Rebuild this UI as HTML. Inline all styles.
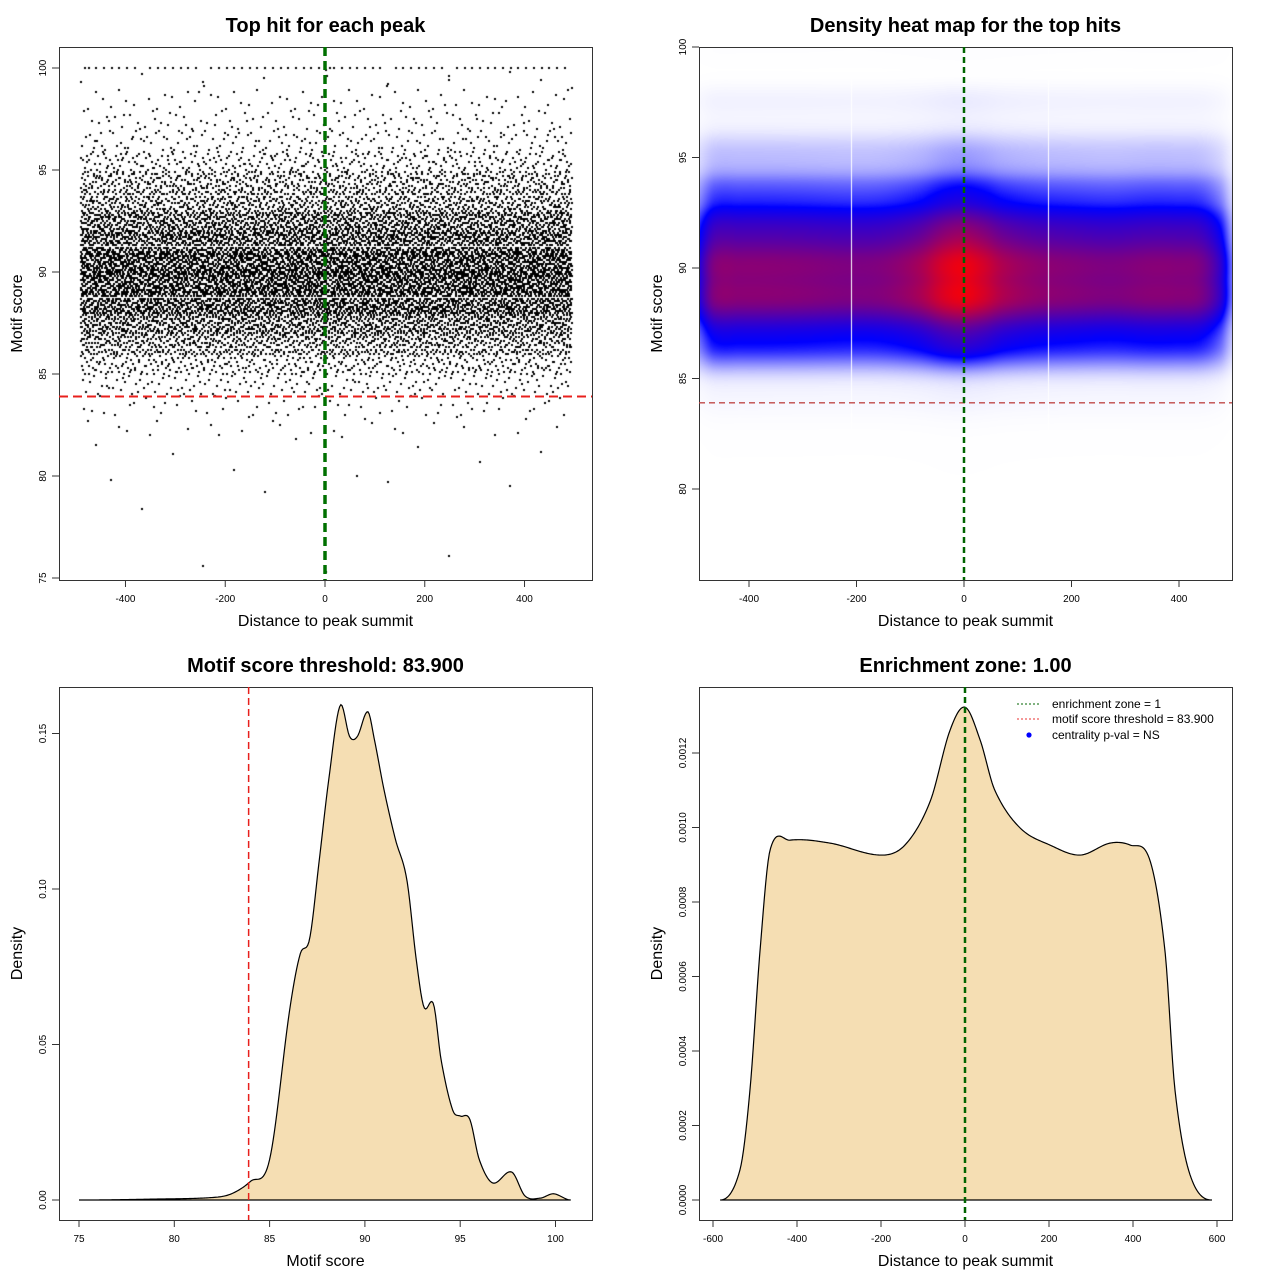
<!DOCTYPE html>
<html><head><meta charset="utf-8">
<style>
html,body{margin:0;padding:0;background:#fff;}
#wrap{position:relative;width:1280px;height:1280px;overflow:hidden;font-family:"Liberation Sans",Arial,sans-serif;}
canvas{position:absolute;}
svg{position:absolute;left:0;top:0;}
</style></head>
<body>
<div id="wrap">
<canvas id="scatter" width="533" height="533" style="left:59px;top:47px"></canvas>
<canvas id="heat" width="533" height="533" style="left:699px;top:47px"></canvas>
<svg id="svg" width="1280" height="1280" xmlns="http://www.w3.org/2000/svg"></svg>
</div>
<script>
// ---- data ----
const scoreGrid = [75,79,82,83,84,85,86.05,86.6,87.1,87.6,88.1,88.7,89.2,89.6,90.15,90.5,91.0,91.6,92.2,92.7,93.1,93.6,94.0,94.6,95.0,95.5,96.0,96.7,97.7,98.4,99.2,99.9,100.8];
const scoreDens = [0,0.0003,0.0008,0.002,0.006,0.013,0.061,0.079,0.084,0.109,0.135,0.159,0.149,0.149,0.157,0.148,0.132,0.116,0.103,0.077,0.062,0.063,0.045,0.029,0.027,0.026,0.013,0.0055,0.009,0.0013,0.0006,0.002,0];
const posGrid = [-583,-536,-512,-488,-464,-417,-321,-202,-143,-83,-36,0,36,71,131,202,274,345,393,440,476,500,536,588];
const posDens = [0,0.00008,0.000295,0.00067,0.00094,0.000966,0.000958,0.000926,0.000953,0.00107,0.00126,0.001323,0.001235,0.0011,0.000999,0.000953,0.000926,0.000958,0.000953,0.000913,0.00067,0.000295,0.000067,0];
const scatterBins = [75,76,77,78,79,80,81,82,83,84,85,86,87,88,89,90,91,92,93,94,95,96,97,98,99,100];
const scatterCounts = [2,1,0,1,4,3,6,25,60,150,380,850,1200,1750,1950,1950,1600,1300,850,620,300,150,90,60,15,60];
const threshold = 83.9;
const xTicks1 = [-400,-200,0,200,400];
const yTicks1 = [75,80,85,90,95,100];
const yTicks2 = [80,85,90,95,100];
const xTicks3 = [75,80,85,90,95,100];
const yTicks3 = [0,0.05,0.10,0.15];
const yTickLabels3 = ["0.00","0.05","0.10","0.15"];
const xTicks4 = [-600,-400,-200,0,200,400,600];
const yTicks4 = [0,0.0002,0.0004,0.0006,0.0008,0.0010,0.0012];
const yTickLabels4 = ["0.0000","0.0002","0.0004","0.0006","0.0008","0.0010","0.0012"];

// ---- scales ----
const P1={x0:59,y0:47,w:533,h:533,xs:v=>325+v*0.4988,ys:s=>68+(100-s)*20.4};
const P2={x0:699,y0:47,w:533,h:533,xs:v=>964+v*0.5375,ys:s=>47+(100-s)*22.1};
const P3={x0:59,y0:687,w:533,h:533,xs:s=>79+(s-75)*19.06,ys:d=>1200-d*3110};
const P4={x0:699,y0:687,w:533,h:533,xs:v=>965+v*0.42,ys:d=>1200-d*372500};

function interp(X,Y,x){
  if(x<=X[0]||x>=X[X.length-1]) return 0;
  let i=0; while(X[i+1]<x) i++;
  const x0=X[i],x1=X[i+1],y0=Y[i],y1=Y[i+1];
  const m=k=>{ if(k<=0||k>=X.length-1) return 0; return (Y[k+1]-Y[k-1])/(X[k+1]-X[k-1]); };
  const h=x1-x0,t=(x-x0)/h,t2=t*t,t3=t2*t;
  return Math.max(0,(2*t3-3*t2+1)*y0+(t3-2*t2+t)*h*m(i)+(-2*t3+3*t2)*y1+(t3-t2)*h*m(i+1));
}

const NS="http://www.w3.org/2000/svg";
const svg=document.getElementById('svg');
function el(tag,attrs,parent){const e=document.createElementNS(NS,tag);for(const k in attrs)e.setAttribute(k,attrs[k]);(parent||svg).appendChild(e);return e;}
function txt(s,attrs,parent){const e=el('text',attrs,parent);e.textContent=s;return e;}

// ---- scatter ----
(function(){
  const c=document.getElementById('scatter').getContext('2d');
  c.fillStyle='#000';
  let n=0;
  const halton=(i,b)=>{let f=1,r=0;while(i>0){f/=b;r+=f*(i%b);i=Math.floor(i/b);}return r;};
  for(let b=0;b<scatterBins.length;b++){
    for(let k=0;k<scatterCounts[b];k++){
      n++;
      const v=-490+halton(n,2)*985;
      let s=scatterBins[b]===100?100:scatterBins[b]+Math.floor(halton(n,3)*10)/10;
      c.fillRect(Math.round(P1.xs(v)-59-1),Math.round(P1.ys(s)-47-1),2,2);
    }
  }
})();

// ---- heatmap ----
(function(){
  const c=document.getElementById('heat').getContext('2d');
  const img=c.createImageData(533,533);
  let mf=0,mg=0;
  for(let i=0;i<scoreDens.length;i++)mf=Math.max(mf,scoreDens[i]);
  for(let i=0;i<posDens.length;i++)mg=Math.max(mg,posDens[i]);
  const fy=[];for(let y=0;y<533;y++){const s=100-(y+0.5)/22.1;let a=0;for(let d=-3;d<=3;d++)a+=interp(scoreGrid,scoreDens,s+d*0.15);fy.push(a/7/mf);}
  const gx=[];for(let x=0;x<533;x++){const v=(699+x+0.5-964)/0.5375;gx.push(interp(posGrid,posDens,v)/mg);}
  for(let y=0;y<533;y++)for(let x=0;x<533;x++){
    const q=Math.min(1,fy[y]*gx[x]);
    let r,g,b;
    if(q<0.35){const u=Math.pow(q/0.35,1.3);r=255*(1-u);g=255*(1-u);b=255;}
    else{const u=(q-0.35)/0.65;r=255*u;g=0;b=255*(1-u);}
    const p=(y*533+x)*4;img.data[p]=r;img.data[p+1]=g;img.data[p+2]=b;img.data[p+3]=255;
  }
  c.putImageData(img,0,0);
  c.fillStyle='#fff';
  c.fillRect(851-699,0,1,385);c.fillRect(1048-699,0,1,385);
})();

// ---- axes ----
function axes(P,name,xt,xl,yt,yl,title,xlab,ylab){
  const g=el('g',{});
  
  
  const box=el('rect',{x:P.x0+0.5,y:P.y0+0.5,width:P.w,height:P.h,fill:'none',stroke:'#333','stroke-width':1},g);
  
  const xa=el('g',{},g);
  const by=P.y0+P.h;
  el('line',{x1:P.xs(xt[0]),x2:P.xs(xt[xt.length-1]),y1:by+0.5,y2:by+0.5,stroke:'#333'},xa);
  xt.forEach((v,i)=>{const x=P.xs(v);el('line',{x1:x,x2:x,y1:by,y2:by+7,stroke:'#333'},xa);
    txt(xl[i],{x:x,y:by+22,'font-size':10,'text-anchor':'middle',fill:'#000'},xa);});
  const ya=el('g',{},g);
  const lx=P.x0;
  el('line',{x1:lx+0.5,x2:lx+0.5,y1:P.ys(yt[0]),y2:P.ys(yt[yt.length-1]),stroke:'#333'},ya);
  yt.forEach((v,i)=>{const y=P.ys(v);el('line',{x1:lx-7,x2:lx,y1:y,y2:y,stroke:'#333'},ya);
    txt(yl[i],{x:lx-13,y:y,'font-size':10,'text-anchor':'middle',fill:'#000',transform:`rotate(-90 ${lx-13} ${y})`},ya);});
  const t=txt(title,{x:P.x0+P.w/2,y:P.y0-15,'font-size':20,'font-weight':'bold','text-anchor':'middle'},g);
  
  const xt2=txt(xlab,{x:P.x0+P.w/2,y:by+46,'font-size':16,'text-anchor':'middle'},g);
  
  const yx=P.x0-37,yy=P.y0+P.h/2;
  const yt2=txt(ylab,{x:yx,y:yy,'font-size':16,'text-anchor':'middle',transform:`rotate(-90 ${yx} ${yy})`},g);
  
}
axes(P1,'panel-top-hit-scatter',xTicks1,xTicks1.map(String),yTicks1,yTicks1.map(String),'Top hit for each peak','Distance to peak summit','Motif score');
axes(P2,'panel-density-heatmap',xTicks1,xTicks1.map(String),yTicks2,yTicks2.map(String),'Density heat map for the top hits','Distance to peak summit','Motif score');
axes(P3,'panel-score-density',xTicks3,xTicks3.map(String),yTicks3,yTickLabels3,'Motif score threshold: 83.900','Motif score','Density');
axes(P4,'panel-position-density',xTicks4,xTicks4.map(String),yTicks4,yTickLabels4,'Enrichment zone: 1.00','Distance to peak summit','Density');

// ---- reference lines panel 1/2 ----
let l;
l=el('line',{x1:P1.x0,x2:P1.x0+P1.w,y1:P1.ys(threshold),y2:P1.ys(threshold),stroke:'#e8201c','stroke-width':2,'stroke-dasharray':'9 5'});

l=el('line',{x1:P1.xs(0),x2:P1.xs(0),y1:P1.y0,y2:P1.y0+P1.h,stroke:'#007000','stroke-width':3.5,'stroke-dasharray':'9 5'});

l=el('line',{x1:P2.x0,x2:P2.x0+P2.w,y1:P2.ys(threshold),y2:P2.ys(threshold),stroke:'#c04848','stroke-width':1.3,'stroke-dasharray':'6 4'});

l=el('line',{x1:P2.xs(0),x2:P2.xs(0),y1:P2.y0,y2:P2.y0+P2.h,stroke:'#006400','stroke-width':2.5,'stroke-dasharray':'6 4'});


// ---- density curves ----
function curve(P,X,Y,name){
  let d='';const a=X[0],b=X[X.length-1];
  for(let i=0;i<=400;i++){const x=a+(b-a)*i/400;d+=(i?'L':'M')+P.xs(x).toFixed(2)+','+P.ys(interp(X,Y,x)).toFixed(2);}
  const p=el('path',{d:d+'Z',fill:'#F5DEB3',stroke:'#000','stroke-width':1.2});
  
}
curve(P3,scoreGrid,scoreDens,'score-density-area');
l=el('line',{x1:P3.xs(threshold),x2:P3.xs(threshold),y1:P3.y0,y2:P3.y0+P3.h,stroke:'#e8201c','stroke-width':1.5,'stroke-dasharray':'7 4'});

curve(P4,posGrid,posDens,'position-density-area');
l=el('line',{x1:P4.xs(0),x2:P4.xs(0),y1:P4.y0,y2:P4.y0+P4.h,stroke:'#006400','stroke-width':2.5,'stroke-dasharray':'6 4'});


// ---- legend ----
const lg=el('g',{});

const e1=el('g',{},lg);
el('line',{x1:1017,x2:1041,y1:704,y2:704,stroke:'#006400','stroke-dasharray':'2 2'},e1);
txt('enrichment zone = 1',{x:1052,y:708,'font-size':12},e1);
const e2=el('g',{},lg);
el('line',{x1:1017,x2:1041,y1:719,y2:719,stroke:'#e83030','stroke-dasharray':'2 2'},e2);
txt('motif score threshold = 83.900',{x:1052,y:723,'font-size':12},e2);
const e3=el('g',{},lg);
el('circle',{cx:1029,cy:735,r:2.6,fill:'#0000ff'},e3);
txt('centrality p-val = NS',{x:1052,y:739,'font-size':12},e3);
</script>
</body></html>
